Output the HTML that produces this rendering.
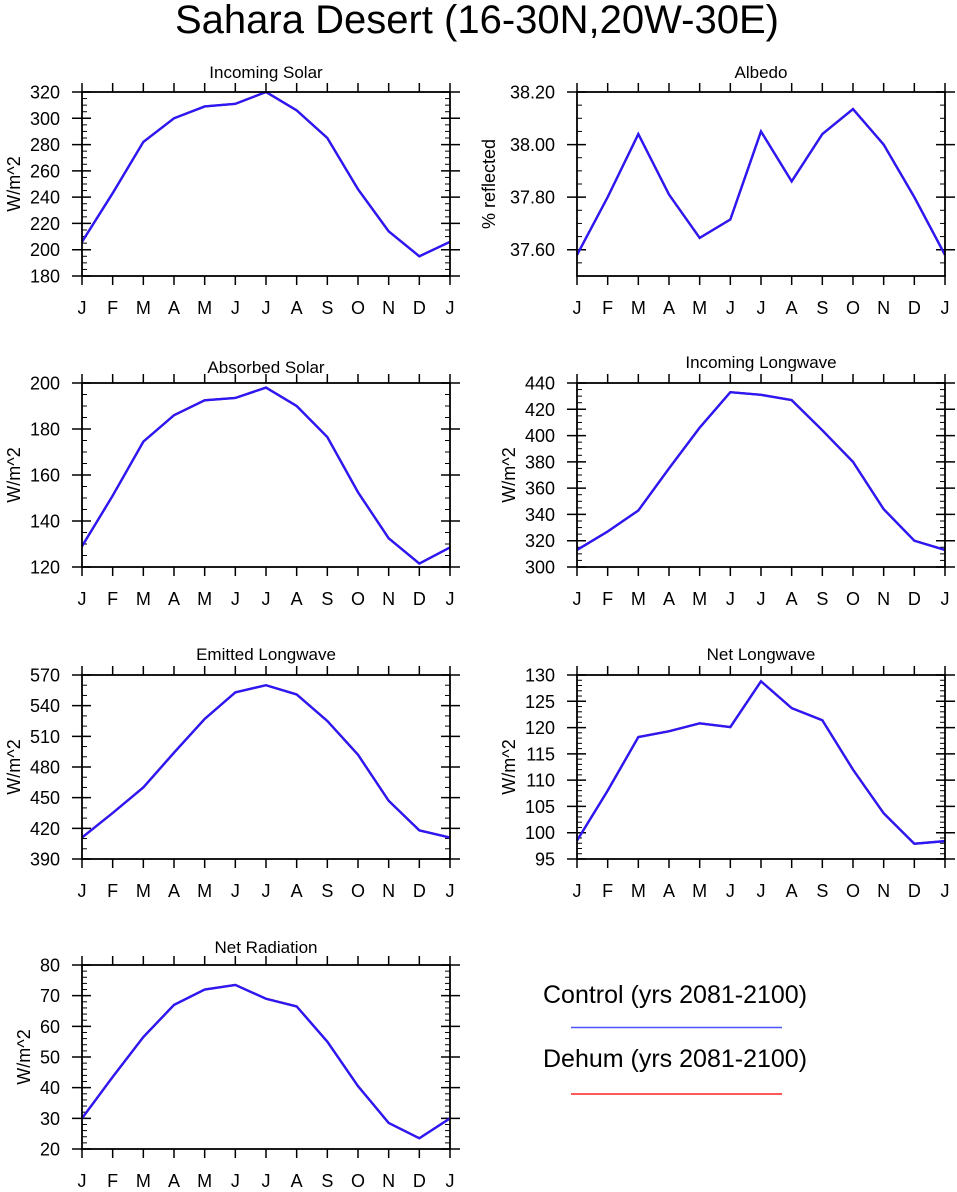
<!DOCTYPE html>
<html><head><meta charset="utf-8"><style>
html,body{margin:0;padding:0;background:#fff;}
svg text{font-family:"Liberation Sans",sans-serif;fill:#000;}
</style></head><body>
<svg id="fig" width="957" height="1187" viewBox="0 0 957 1187" xmlns="http://www.w3.org/2000/svg">
<text x="477" y="33" font-size="40" text-anchor="middle">Sahara Desert (16-30N,20W-30E)</text>
<g>
<text x="543" y="1003" font-size="25">Control (yrs 2081-2100)</text>
<line x1="571" y1="1027.5" x2="782" y2="1027.5" stroke="#4a55ff" stroke-width="1.5"/>
<text x="543" y="1067" font-size="25">Dehum (yrs 2081-2100)</text>
<line x1="571" y1="1094" x2="782" y2="1094" stroke="#ff2020" stroke-width="1.5"/>
</g>
</svg>
<script>
const months = ["J","F","M","A","M","J","J","A","S","O","N","D","J"];
const incomingSolar = [206,243,282,300,309,311,320,306,285,246,214,195,206];
const albedo = [37.58,37.80,38.04,37.81,37.645,37.715,38.05,37.86,38.04,38.135,38.00,37.80,37.58];
const absorbedSolar = [129,151,174.5,186,192.5,193.5,198,190,176.5,152.5,132.5,121.5,128.5];
const incomingLW = [313,327,343,375,406,433,431,427,404,380,344,320,313];
const emittedLW = [411,435,460,494,527,553,560,551,525,492,447,418,411];
const netLW = [98.5,108,118.2,119.3,120.8,120.1,128.8,123.7,121.4,112,103.7,97.9,98.4];
const netRad = [30,43.5,56.5,67,72,73.5,69,66.5,55,40.5,28.5,23.5,30];
const solarTicks = ["180","200","220","240","260","280","300","320"];
const albedoTicks = ["37.60","37.80","38.00","38.20"];
const absTicks = ["120","140","160","180","200"];
const ilwTicks = ["300","320","340","360","380","400","420","440"];
const elwTicks = ["390","420","450","480","510","540","570"];
const nlwTicks = ["95","100","105","110","115","120","125","130"];
const nradTicks = ["20","30","40","50","60","70","80"];

const NS="http://www.w3.org/2000/svg";
const svg=document.getElementById('fig');
function mk(tag,attrs,parent){const e=document.createElementNS(NS,tag);for(const k in attrs)e.setAttribute(k,attrs[k]);(parent||svg).appendChild(e);return e;}

const panels=[
 {name:"incoming-solar",title:"Incoming Solar",ylab:"W/m^2",data:incomingSolar,ticks:solarTicks,min:180,max:320,minor:5,x:82,y:92,t:72},
 {name:"albedo",title:"Albedo",ylab:"% reflected",data:albedo,ticks:albedoTicks,min:37.5,max:38.2,minor:0.05,x:577,y:92,t:72},
 {name:"absorbed-solar",title:"Absorbed Solar",ylab:"W/m^2",data:absorbedSolar,ticks:absTicks,min:120,max:200,minor:5,x:82,y:383,t:367},
 {name:"incoming-longwave",title:"Incoming Longwave",ylab:"W/m^2",data:incomingLW,ticks:ilwTicks,min:300,max:440,minor:5,x:577,y:383,t:362},
 {name:"emitted-longwave",title:"Emitted Longwave",ylab:"W/m^2",data:emittedLW,ticks:elwTicks,min:390,max:570,minor:10,x:82,y:675,t:654},
 {name:"net-longwave",title:"Net Longwave",ylab:"W/m^2",data:netLW,ticks:nlwTicks,min:95,max:130,minor:1,x:577,y:675,t:654},
 {name:"net-radiation",title:"Net Radiation",ylab:"W/m^2",data:netRad,ticks:nradTicks,min:20,max:80,minor:2,x:82,y:965,t:947}
];
const W=368,H=184;
panels.forEach(p=>{
 const g=mk('g',{});
 
 
 const xs=i=>p.x+i*W/12;
 const ys=v=>p.y+H-(v-p.min)/(p.max-p.min)*H;
 const t=mk('text',{x:p.x+W/2,y:p.t+6,'font-size':17,'text-anchor':'middle'},g);t.textContent=p.title;
 
 
 for(let v=p.min;v<=p.max+1e-9;v+=p.minor){
  const y=ys(v);
  mk('line',{x1:p.x,y1:y,x2:p.x+5,y2:y,stroke:'#000','stroke-width':1},g);
  mk('line',{x1:p.x+W-5,y1:y,x2:p.x+W,y2:y,stroke:'#000','stroke-width':1},g);
 }
 let maxLen=0;
 p.ticks.forEach(s=>{
  maxLen=Math.max(maxLen,s.length);
  const y=ys(parseFloat(s));
  mk('line',{x1:p.x-10,y1:y,x2:p.x+9,y2:y,stroke:'#000','stroke-width':1.5},g);
  mk('line',{x1:p.x+W-9,y1:y,x2:p.x+W+10,y2:y,stroke:'#000','stroke-width':1.5},g);
  const tl=mk('text',{x:p.x-22,y:y+6.5,'font-size':18,'text-anchor':'end'},g);tl.textContent=s;
  
  
 });
 months.forEach((m,i)=>{
  const x=xs(i);
  mk('line',{x1:x,y1:p.y-9,x2:x,y2:p.y,stroke:'#000','stroke-width':1.5},g);
  mk('line',{x1:x,y1:p.y+H,x2:x,y2:p.y+H+9,stroke:'#000','stroke-width':1.5},g);
  const tl=mk('text',{x:x,y:p.y+H+38,'font-size':18,'text-anchor':'middle'},g);tl.textContent=m;
  
  
 });
 const ylx=p.x-22-maxLen*10-16;
 const yl=mk('text',{x:0,y:0,'font-size':18,'text-anchor':'middle',transform:`translate(${ylx+6},${p.y+H/2}) rotate(-90)`},g);
 yl.textContent=p.ylab;
 
 
 const pts=p.data.map((v,i)=>xs(i)+','+ys(v)).join(' ');
 const r=mk('polyline',{points:pts,fill:'none',stroke:'#ff0000','stroke-width':2.2},g);
 
 
 const b=mk('polyline',{points:pts,fill:'none',stroke:'#2a18f5','stroke-width':2.4},g);
 
 
 const box=mk('rect',{x:p.x,y:p.y,width:W,height:H,fill:'none',stroke:'#000','stroke-width':1.8},g);
 
 
});
</script>
</body></html>
